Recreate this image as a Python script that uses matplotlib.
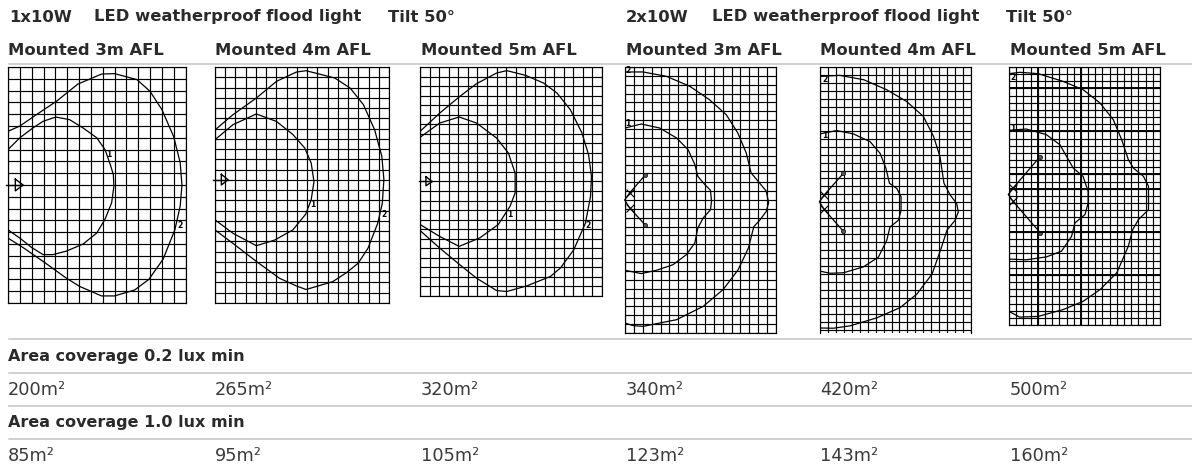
import matplotlib
matplotlib.use("Agg")
import matplotlib.pyplot as plt
import numpy as np

W, H = 1192, 468
plt.rcParams['font.family'] = ['DejaVu Sans']

# curves in plot units (x from left, y from top)
p1_x2 = [0, 1, 2.83, 4.1, 5.9, 7.9, 9, 10.9, 12, 13, 14, 14.55, 14.7, 14.55, 14.1, 13.1, 11.9, 10.7, 9, 7.9, 6.07, 4.94, 3, 1.27, 0]
p1_y2 = [5.45, 5, 3.75, 2.9, 1.45, 0.6, 0.56, 1.07, 2.06, 3.6, 5.9, 8.1, 10, 11.8, 13.8, 16.3, 18, 18.9, 19.4, 19.4, 18.6, 17.9, 16.5, 15.3, 14.5]
p1_x1 = [0, 1, 2.1, 2.97, 4.04, 5.2, 6.35, 7.5, 8.2, 8.6, 8.9, 8.95, 8.76, 8.2, 7.5, 6.35, 4.94, 3.8, 2.97, 2, 1, 0]
p1_y1 = [7, 6, 5.17, 4.6, 4.24, 4.46, 5.17, 6, 7, 8.14, 9.1, 10.1, 11.5, 12.9, 14.07, 15, 15.6, 15.9, 15.9, 15.3, 14.5, 13.8]

p2_x2 = [0, 1.76, 4.04, 6, 7.95, 8.9, 11.7, 13.2, 14.5, 15.6, 16.3, 16.5, 16.35, 15.9, 14.96, 14, 12.85, 11.5, 8.9, 8, 6.3, 4.04, 1.76, 0]
p2_y2 = [5.6, 4.24, 2.76, 1.28, 0.45, 0.33, 0.98, 1.87, 3.35, 5.6, 7.95, 10, 12.1, 13.9, 16.1, 17.45, 18.3, 19.1, 19.8, 19.5, 18.8, 17.3, 15.7, 14.5]
p2_x1 = [0, 1.76, 4.04, 6, 7.6, 8.76, 9.4, 9.67, 9.4, 8.86, 7.6, 5.83, 4.04, 1.76, 0]
p2_y1 = [6.47, 5.13, 4.18, 4.84, 6, 7.2, 8.55, 10.2, 11.8, 13.1, 14.5, 15.4, 15.9, 14.8, 13.6]

p3_x2 = [0, 2.06, 4.16, 5.9, 8, 9.06, 11, 12.9, 14.3, 15.7, 16.9, 17.6, 17.9, 17.8, 17.27, 16.05, 14.65, 13.6, 11.15, 9.06, 8, 5.9, 4.16, 2.06, 0]
p3_y2 = [6.75, 4.83, 3.08, 1.75, 0.63, 0.38, 0.87, 1.68, 2.73, 4.48, 6.9, 9.2, 11.47, 13.57, 16.36, 19.16, 21.08, 21.96, 22.94, 23.53, 23.43, 22.13, 20.73, 18.98, 17.13]
p3_x1 = [0, 2.06, 4.09, 5.9, 8, 9.23, 9.93, 9.93, 9.4, 8.18, 6.26, 4.09, 2.06, 0]
p3_y1 = [7.38, 5.87, 5.24, 5.87, 7.45, 9.02, 11.12, 13.2, 14.6, 16.5, 17.9, 18.8, 17.76, 16.5]

p4_x2 = [0, 2.03, 4.66, 7.3, 9.5, 11.4, 12.7, 13.65, 14.2, 15.15, 15.9, 16.17, 15.9, 15.15, 14.5, 13.9, 12.74, 11.05, 8.8, 5.8, 2.03, 0.9, 0]
p4_y2 = [0.56, 0.56, 1.05, 2.18, 3.68, 5.38, 7.44, 9.7, 11.95, 13.08, 14, 15.3, 16.3, 17.3, 18, 20.4, 22.86, 25.1, 27, 28.5, 29.25, 29.17, 28.87]
p4_x1 = [0, 1.84, 3.9, 5.8, 7.1, 7.86, 8.2, 9, 9.62, 9.74, 9.62, 8.8, 8.2, 7.86, 6.9, 5.4, 3.53, 1.84, 0]
p4_y1 = [6.88, 6.43, 6.88, 8, 9.32, 11, 12.33, 13.27, 13.9, 15.15, 16.1, 17.03, 18.16, 19.85, 21.17, 22.3, 22.93, 23.3, 22.93]

p5_x2 = [0, 2.5, 5.5, 8.4, 10.9, 13, 14.3, 15.1, 15.6, 16.4, 17.2, 17.4, 17, 15.97, 15.3, 14.1, 12.2, 10.1, 7.14, 3.8, 1.68, 0]
p5_y2 = [1.18, 1.05, 1.6, 2.86, 4.33, 6.2, 8.74, 11.26, 14.6, 16.1, 17.14, 18.2, 19.24, 20.5, 22.6, 26, 28.5, 30.2, 31.5, 32.5, 32.8, 32.77]
p5_x1 = [0, 2.1, 4.2, 6.3, 7.56, 8.3, 8.74, 9.66, 10.2, 10.2, 9.87, 8.8, 8.4, 7.35, 5.46, 2.94, 1.26, 0]
p5_y1 = [8.4, 7.98, 8.4, 9.37, 10.84, 12.73, 14.6, 15.25, 16.3, 18, 19.24, 20.1, 21.76, 23.87, 25.1, 25.84, 25.9, 25.63]

p6_x2 = [0, 1.5, 4.05, 7.5, 10.3, 12.65, 14.5, 15.67, 16.6, 17.3, 18.7, 19.4, 19.4, 18, 17.2, 16.6, 15, 12.65, 10.3, 7.5, 4.05, 1.5, 0]
p6_y2 = [0.93, 0.74, 0.93, 2, 3.16, 5.02, 7.35, 10.14, 12.93, 14.1, 15.26, 16.65, 19.9, 21.3, 22.7, 25, 28.7, 31.07, 32.7, 33.86, 34.8, 34.9, 34.1]
p6_x1 = [0, 2.4, 5.2, 7.07, 8, 8.93, 10.3, 11, 11, 10.56, 9.16, 8.7, 7.3, 5.2, 2.4, 0]
p6_y1 = [8.84, 8.65, 9.44, 10.84, 12.47, 14.1, 15.26, 17.35, 19, 20.6, 21.77, 23.63, 25.7, 26.5, 26.9, 26.8]

# single fitting (1x10W): axis stub and triangle
tri_x = [0.62, 0.62, 1.27, 0.62]
p1_tri = [9.5, 10.5, 10, 9.5]
p2_tri = [9.55, 10.5, 10.03, 9.55]
p3_tri = [11.5, 12.45, 12, 11.5]
stub_x = [-0.15, 1.27]
p1_stub = 10
p2_stub = 10.03
p3_stub = 12

# twin fitting (2x10W): aiming arms
p4_arm_x = [2.26, 0.53, -0.04, 0.53, 2.26]
p4_arm_y = [12.2, 14.2, 15, 15.9, 17.8]
p5_arm_x = [2.94, 0.5, -0.08, 0.5, 2.94]
p5_arm_y = [13.36, 16.1, 16.93, 17.86, 20.63]
p6_arm_x = [4.28, 0.56, -0.1, 0.56, 4.37]
p6_arm_y = [12.56, 16.9, 17.8, 18.75, 23.16]

# box: left, top, right, bottom px; nx, ny: data span; rows: grid rows drawn
panels = [
    dict(box=(8, 67, 185.5, 303), nx=15, ny=20, rows=20, c1=(p1_x1, p1_y1), c2=(p1_x2, p1_y2), tri=p1_tri, stub=p1_stub,
         l1=(8.5, 7.4), l2=(14.55, 13.45)),
    dict(box=(215, 67, 389, 303), nx=17, ny=21, rows=23, c1=(p2_x1, p2_y1), c2=(p2_x2, p2_y2), tri=p2_tri, stub=p2_stub,
         l1=(9.6, 12.2), l2=(16.5, 13.15)),
    dict(box=(420, 67, 602, 296), nx=19, ny=24, rows=24, c1=(p3_x1, p3_y1), c2=(p3_x2, p3_y2), tri=p3_tri, stub=p3_stub,
         l1=(9.4, 15.5), l2=(17.5, 16.6)),
    dict(box=(625, 67, 776, 333), nx=17, ny=30, rows=30, c1=(p4_x1, p4_y1), c2=(p4_x2, p4_y2), arm=(p4_arm_x, p4_arm_y),
         l1=(0.34, 6.4), l2=(0.34, 0.4)),
    dict(box=(820, 67, 971, 333), nx=19, ny=33.4, rows=33.4, c1=(p5_x1, p5_y1), c2=(p5_x2, p5_y2), arm=(p5_arm_x, p5_arm_y),
         l1=(0.55, 8.6), l2=(0.63, 1.6)),
    dict(box=(1009, 67, 1160, 325), nx=21, ny=36, rows=36, c1=(p6_x1, p6_y1), c2=(p6_x2, p6_y2), arm=(p6_arm_x, p6_arm_y),
         l1=(0.46, 8.6), l2=(0.56, 1.44)),
]
p6_heavy_x = [4, 10]
p6_heavy_y = [3, 9, 15, 17, 23, 29]

header_left = ["1x10W", "LED weatherproof flood light", "Tilt 50°"]
header_right = ["2x10W", "LED weatherproof flood light", "Tilt 50°"]
mounted = ["Mounted 3m AFL", "Mounted 4m AFL", "Mounted 5m AFL"] * 2
area_02 = ["200m²", "265m²", "320m²", "340m²", "420m²", "500m²"]
area_10 = ["85m²", "95m²", "105m²", "123m²", "143m²", "160m²"]
col_x = [8, 215, 421, 626, 820, 1010]

fig = plt.figure(figsize=(W / 100, H / 100), dpi=100)
back = fig.add_axes([0, 0, 1, 1])
back.set_xlim(0, W)
back.set_ylim(H, 0)
back.axis('off')

DARK = '#2a2a2a'
BOLD = dict(fontsize=11.8, fontweight='bold', color=DARK, va='baseline')
AREA = dict(fontsize=11.5, fontweight='bold', color=DARK, va='baseline')
PLAIN = dict(fontsize=12.8, color='#3a3a3a', va='baseline')

for y in [63.5, 339, 372.5, 406, 439]:
    back.plot([9, 1192], [y, y], color='#c4c4c4', lw=1.1)

for s, x in zip(header_left, [9, 94, 388]):
    back.text(x, 21.5, s, **BOLD)
for s, x in zip(header_right, [626, 712, 1006]):
    back.text(x, 21.5, s, **BOLD)
for s, x in zip(mounted, col_x):
    back.text(x, 55, s, **BOLD)
back.text(8, 361, "Area coverage 0.2 lux min", **AREA)
back.text(8, 427, "Area coverage 1.0 lux min", **AREA)
for s, x in zip(area_02, col_x):
    back.text(x, 395, s, **PLAIN)
for s, x in zip(area_10, col_x):
    back.text(x, 461, s, **PLAIN)

for i, p in enumerate(panels):
    l, t, r, b = p['box']
    ax = fig.add_axes([l / W, 1 - b / H, (r - l) / W, (b - t) / H])
    ax.set_xlim(0, p['nx'])
    ax.set_ylim(p['ny'], 0)
    ax.set_xticks(range(p['nx'] + 1))
    ax.set_yticks(np.arange(0, int(p['rows']) + 1) * p['ny'] / p['rows'])
    ax.tick_params(length=0, labelbottom=False, labelleft=False)
    ax.grid(True, color='black', lw=0.85)
    ax.set_axisbelow(True)
    for s in ax.spines.values():
        s.set_linewidth(0.85)
    if i == 4:
        ax.spines['bottom'].set_visible(False)
    ax.plot(*p['c1'], color='black', lw=0.9)
    ax.plot(*p['c2'], color='black', lw=0.9)
    ax.text(*p['l1'], "1", fontsize=5.5, fontweight='bold', ha='center', va='center')
    ax.text(*p['l2'], "2", fontsize=5.5, fontweight='bold', ha='center', va='center')
    if 'tri' in p:
        ax.plot(tri_x, p['tri'], color='black', lw=1.0, clip_on=False)
        ax.plot(stub_x, [p['stub'], p['stub']], color='black', lw=1.0, clip_on=False)
    else:
        arm_x, arm_y = p['arm']
        ax.plot(arm_x, arm_y, color='black', lw=0.9, clip_on=False)
        ax.plot([arm_x[0], arm_x[-1]], [arm_y[0], arm_y[-1]], ls='none', marker='o', ms=3, mfc='#555555', mec='black', mew=0.5)
        ax.plot([arm_x[1], arm_x[3]], [arm_y[1], arm_y[3]], ls='none', marker='x', ms=5.5, mec='black', mew=0.8)
    if i == 5:
        for v in p6_heavy_x:
            ax.axvline(v, color='black', lw=1.4)
        for v in p6_heavy_y:
            ax.axhline(v, color='black', lw=1.4)

fig.savefig('out.png', dpi=100)
